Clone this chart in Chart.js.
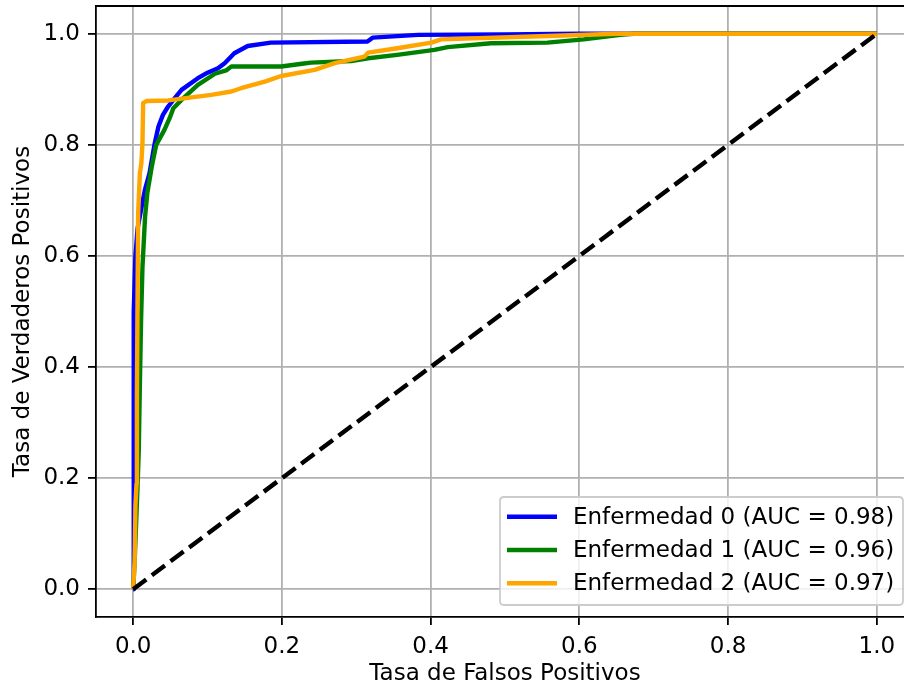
<!DOCTYPE html>
<html>
<head>
<meta charset="utf-8">
<script src="https://cdn.jsdelivr.net/npm/chart.js@4.4.1/dist/chart.umd.min.js"></script>
<style>
  html, body { margin: 0; padding: 0; background: #fff; overflow: hidden; width: 904px; height: 688px; }
  canvas { display: block; }
</style>
</head>
<body>
<canvas id="c" width="920" height="688"></canvas>
<script>
// ---- data ----
const seriesLabels = ["Enfermedad 0 (AUC = 0.98)", "Enfermedad 1 (AUC = 0.96)", "Enfermedad 2 (AUC = 0.97)"];

const fpr0 = [0, 0.0005, 0.001, 0.003, 0.006, 0.013, 0.016, 0.022, 0.029, 0.034, 0.040, 0.047, 0.054, 0.065, 0.087, 0.100, 0.114, 0.123, 0.136, 0.154, 0.185, 0.315, 0.322, 0.383, 0.500, 0.600, 1.0];
const tpr0 = [0, 0.30, 0.50, 0.60, 0.65, 0.70, 0.72, 0.749, 0.803, 0.833, 0.854, 0.869, 0.881, 0.899, 0.920, 0.930, 0.938, 0.947, 0.965, 0.978, 0.984, 0.986, 0.993, 0.998, 0.999, 1.0, 1.0];

const fpr1 = [0, 0.002, 0.004, 0.006, 0.0075, 0.009, 0.0107, 0.0125, 0.016, 0.019, 0.025, 0.031, 0.042, 0.049, 0.054, 0.065, 0.087, 0.110, 0.125, 0.132, 0.199, 0.227, 0.239, 0.293, 0.316, 0.355, 0.405, 0.423, 0.481, 0.557, 0.606, 0.655, 0.673, 1.0];
const tpr1 = [0, 0.05, 0.12, 0.19, 0.25, 0.37, 0.49, 0.58, 0.671, 0.713, 0.761, 0.800, 0.827, 0.848, 0.866, 0.881, 0.908, 0.928, 0.934, 0.941, 0.941, 0.946, 0.948, 0.951, 0.956, 0.962, 0.971, 0.976, 0.983, 0.984, 0.990, 0.998, 1.0, 1.0];

const fpr2 = [0, 0.002, 0.003, 0.0045, 0.005, 0.006, 0.0067, 0.009, 0.011, 0.0125, 0.0134, 0.018, 0.047, 0.105, 0.132, 0.145, 0.177, 0.199, 0.244, 0.271, 0.311, 0.316, 0.355, 0.401, 0.414, 0.557, 0.651, 1.0];
const tpr2 = [0, 0.05, 0.15, 0.19, 0.35, 0.55, 0.677, 0.749, 0.767, 0.803, 0.875, 0.879, 0.880, 0.890, 0.896, 0.902, 0.914, 0.924, 0.935, 0.947, 0.959, 0.966, 0.974, 0.984, 0.990, 0.996, 1.0, 1.0];

const diagX = [0, 1];
const diagY = [0, 1];

const xTicks = [0, 0.2, 0.4, 0.6, 0.8, 1.0];
const yTicks = [0, 0.2, 0.4, 0.6, 0.8, 1.0];
const xTitle = "Tasa de Falsos Positivos";
const yTitle = "Tasa de Verdaderos Positivos";

// ---- build ----
const pts = (xs, ys) => xs.map((x, i) => ({ x: x, y: ys[i] }));
const FONT = "'DejaVu Sans', sans-serif";
const FS = 23;
const LW = 4.4;

const spinePlugin = {
  id: 'spines',
  afterDatasetsDraw(chart) {
    const { ctx, chartArea: a } = chart;
    ctx.save();
    ctx.strokeStyle = '#000';
    ctx.lineWidth = 1.8;
    ctx.beginPath();
    ctx.moveTo(a.left, a.top);
    ctx.lineTo(a.right, a.top);
    ctx.lineTo(a.right, a.bottom);
    ctx.stroke();
    ctx.restore();
  }
};

const legendPlugin = {
  id: 'mplLegend',
  afterDraw(chart) {
    const { ctx } = chart;
    const bx = 500, by = 497, bw = 403, bh = 108, r = 4;
    ctx.save();
    ctx.beginPath();
    ctx.moveTo(bx + r, by);
    ctx.lineTo(bx + bw - r, by);
    ctx.quadraticCurveTo(bx + bw, by, bx + bw, by + r);
    ctx.lineTo(bx + bw, by + bh - r);
    ctx.quadraticCurveTo(bx + bw, by + bh, bx + bw - r, by + bh);
    ctx.lineTo(bx + r, by + bh);
    ctx.quadraticCurveTo(bx, by + bh, bx, by + bh - r);
    ctx.lineTo(bx, by + r);
    ctx.quadraticCurveTo(bx, by, bx + r, by);
    ctx.closePath();
    ctx.fillStyle = 'rgba(255,255,255,0.8)';
    ctx.fill();
    ctx.strokeStyle = '#cccccc';
    ctx.lineWidth = 1.8;
    ctx.stroke();
    const ds = chart.data.datasets.filter(d => d.showInLegend);
    ds.forEach((d, i) => {
      const cy = by + 19.7 + i * 33.3;
      ctx.beginPath();
      ctx.strokeStyle = d.borderColor;
      ctx.lineWidth = LW;
      ctx.moveTo(507, cy);
      ctx.lineTo(557, cy);
      ctx.stroke();
      ctx.fillStyle = '#000';
      ctx.font = FS + 'px ' + FONT;
      ctx.textBaseline = 'middle';
      ctx.textAlign = 'left';
      ctx.fillText(d.label, 573, cy + 1);
    });
    ctx.restore();
  }
};

const mk = (label, data, color, order) => ({
  label: label, data: data, borderColor: color, backgroundColor: color,
  borderWidth: LW, showLine: true, pointRadius: 0, pointHoverRadius: 0,
  tension: 0, order: order, showInLegend: true, borderJoinStyle: 'round', borderCapStyle: 'butt'
});

new Chart(document.getElementById('c'), {
  type: 'scatter',
  data: {
    datasets: [
      mk(seriesLabels[0], pts(fpr0, tpr0), '#0000ff', 4),
      mk(seriesLabels[1], pts(fpr1, tpr1), '#008000', 3),
      mk(seriesLabels[2], pts(fpr2, tpr2), '#ffa500', 2),
      {
        label: 'diag', data: pts(diagX, diagY), borderColor: '#000000', backgroundColor: '#000',
        borderWidth: LW, borderDash: [16.3, 7.0], showLine: true, pointRadius: 0, order: 1, showInLegend: false
      }
    ]
  },
  options: {
    responsive: false,
    animation: false,
    devicePixelRatio: 1,
    layout: { padding: { top: 6, right: 6, left: 0, bottom: 0 } },
    plugins: { legend: { display: false }, tooltip: { enabled: false } },
    scales: {
      x: {
        type: 'linear', min: -0.05, max: 1.05,
        afterBuildTicks: (s) => { s.ticks = xTicks.map(v => ({ value: v })); },
        afterFit: (s) => { s.height = 71; s.paddingLeft = 0; s.paddingRight = 0; },
        ticks: { color: '#000', font: { family: FONT, size: FS }, padding: 8, maxRotation: 0, autoSkip: false,
                 callback: (v) => Number(v).toFixed(1) },
        grid: { color: '#b0b0b0', lineWidth: 1.8, tickColor: '#000', tickLength: 8, tickWidth: 1.8, drawTicks: true },
        border: { display: true, color: '#000', width: 1.8 },
        title: { display: true, text: xTitle, color: '#000', font: { family: FONT, size: FS }, padding: { top: 0, bottom: 0 } }
      },
      y: {
        type: 'linear', min: -0.05, max: 1.05,
        afterBuildTicks: (s) => { s.ticks = yTicks.map(v => ({ value: v })); },
        afterFit: (s) => { s.width = 96; s.paddingTop = 0; s.paddingBottom = 0; },
        ticks: { color: '#000', font: { family: FONT, size: FS }, padding: 8, autoSkip: false,
                 callback: (v) => Number(v).toFixed(1) },
        grid: { color: '#b0b0b0', lineWidth: 1.8, tickColor: '#000', tickLength: 8, tickWidth: 1.8, drawTicks: true },
        border: { display: true, color: '#000', width: 1.8 },
        title: { display: true, text: yTitle, color: '#000', font: { family: FONT, size: FS }, padding: { top: 9, bottom: 0 } }
      }
    }
  },
  plugins: [spinePlugin, legendPlugin]
});
</script>
</body>
</html>
